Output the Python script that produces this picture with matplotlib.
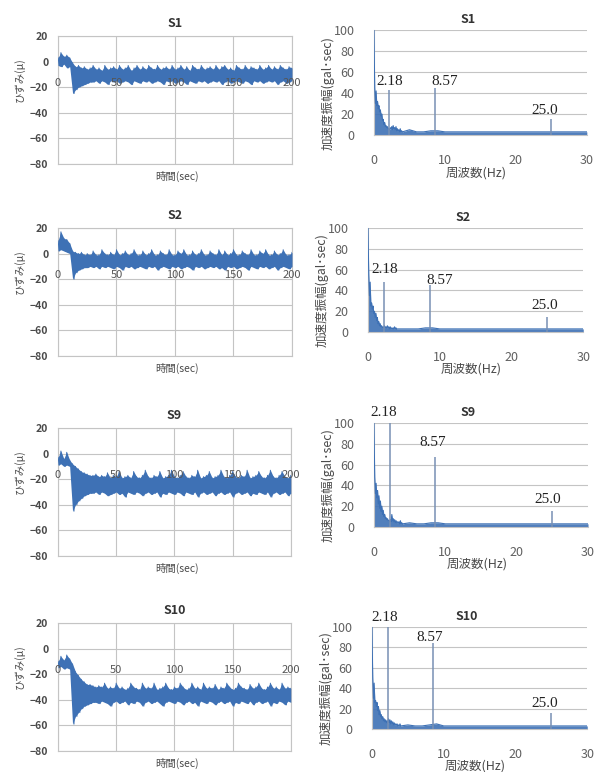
import numpy as np
import matplotlib
matplotlib.use("Agg")
import matplotlib.pyplot as plt

plt.rcParams['font.family'] = ['Noto Sans CJK JP', 'DejaVu Sans']

# ---------------- data ----------------
sensor_names = ["S1", "S2", "S9", "S10"]

# strain time histories: upper / lower envelope every 2.5 s from 0 to 200 s
S1_hi = [3, 7, 4, 5, 3, -1, -4, -3, -5, -4,
         -6, -5, -3, -6, -5, -7, -3, -6, -5, -4,
         -6, -3, -6, -5, -3, -7, -5, -3, -6, -4,
         -6, -3, -5, -6, -3, -6, -5, -4, -6, -3,
         -6, -5, -3, -6, -4, -7, -3, -5, -6, -3,
         -6, -5, -4, -6, -3, -6, -4, -3, -6, -5,
         -7, -3, -5, -6, -3, -6, -4, -5, -6, -3,
         -6, -5, -3, -6, -4, -6, -3, -5, -6, -4,
         -5]
S1_lo = [-3, -4, -2, -5, -4, -25, -22, -20, -19, -18,
         -17, -16, -16, -15, -17, -15, -16, -18, -15, -16,
         -15, -17, -16, -15, -16, -18, -15, -16, -17, -15,
         -16, -15, -17, -16, -15, -16, -18, -15, -16, -15,
         -17, -16, -15, -16, -18, -15, -16, -17, -15, -16,
         -15, -17, -16, -15, -16, -15, -18, -16, -15, -17,
         -16, -15, -16, -17, -15, -16, -18, -15, -16, -15,
         -17, -16, -15, -16, -15, -18, -16, -15, -17, -16,
         -15]

S2_hi = [10, 17, 12, 11, 8, 2, 1, 0, 1, -1,
         0, -1, 2, -1, -1, 3, 0, -1, 1, -1,
         3, -1, 0, 2, -1, 0, 3, -1, -1, 2,
         -1, 0, 3, -1, -1, 2, 0, -1, 3, -1,
         -1, 2, 0, 3, -1, -1, 2, -1, 0, 3,
         -1, -1, 2, 0, -1, 3, -1, 2, -1, 0,
         3, -1, -1, 2, 0, -1, 3, -1, -1, 2,
         0, 3, -1, -1, 2, -1, 0, 3, -1, -1,
         1]
S2_lo = [2, 3, 2, 1, 0, -20, -15, -13, -12, -11,
         -11, -10, -11, -10, -12, -10, -11, -10, -11, -12,
         -10, -11, -13, -10, -11, -10, -12, -11, -10, -11,
         -12, -10, -11, -10, -13, -11, -10, -11, -12, -10,
         -11, -10, -12, -11, -10, -11, -13, -10, -11, -10,
         -12, -11, -10, -11, -10, -12, -11, -13, -10, -11,
         -10, -12, -11, -10, -11, -13, -10, -11, -12, -10,
         -11, -10, -12, -11, -10, -13, -11, -10, -11, -12,
         -10]

S9_hi = [-3, 2, -4, 1, -5, -8, -10, -12, -14, -15,
         -16, -17, -17, -16, -18, -17, -18, -15, -19, -17,
         -18, -14, -19, -18, -17, -19, -14, -18, -19, -17,
         -13, -18, -19, -17, -18, -14, -19, -18, -17, -13,
         -18, -19, -17, -14, -18, -19, -17, -18, -13, -19,
         -18, -17, -14, -19, -18, -17, -13, -18, -19, -17,
         -14, -18, -19, -17, -18, -13, -19, -18, -17, -14,
         -18, -19, -17, -13, -18, -19, -17, -14, -18, -19,
         -17]
S9_lo = [-9, -8, -10, -9, -10, -45, -40, -37, -35, -33,
         -32, -31, -31, -30, -32, -30, -31, -33, -32, -31,
         -30, -32, -31, -34, -30, -31, -32, -30, -31, -33,
         -31, -30, -32, -31, -30, -34, -31, -32, -30, -31,
         -32, -30, -31, -33, -30, -31, -32, -30, -34, -31,
         -30, -32, -31, -30, -33, -31, -30, -32, -31, -30,
         -34, -31, -30, -32, -31, -30, -33, -31, -32, -30,
         -31, -32, -30, -34, -31, -30, -32, -31, -30, -33,
         -31]

S10_hi = [-10, -6, -9, -5, -8, -12, -18, -21, -24, -26,
          -28, -28, -29, -30, -29, -30, -27, -31, -30, -31,
          -27, -31, -30, -32, -31, -27, -30, -31, -32, -27,
          -31, -30, -31, -27, -32, -31, -30, -27, -31, -32,
          -30, -31, -27, -30, -32, -31, -27, -31, -30, -32,
          -27, -31, -30, -31, -28, -32, -30, -31, -27, -30,
          -32, -31, -27, -30, -31, -32, -28, -31, -30, -27,
          -31, -32, -30, -27, -31, -30, -32, -27, -31, -30,
          -31]
S10_lo = [-15, -14, -16, -15, -16, -59, -53, -50, -47, -45,
          -44, -43, -42, -42, -43, -41, -42, -43, -45, -42,
          -41, -43, -42, -41, -44, -42, -43, -41, -42, -45,
          -42, -41, -43, -42, -41, -43, -45, -42, -41, -42,
          -43, -41, -42, -44, -42, -41, -43, -42, -45, -41,
          -42, -43, -41, -42, -44, -42, -41, -43, -42, -41,
          -45, -42, -43, -41, -42, -43, -41, -44, -42, -41,
          -43, -42, -41, -45, -42, -43, -41, -42, -44, -41,
          -42]

strain_hi = [S1_hi, S2_hi, S9_hi, S10_hi]
strain_lo = [S1_lo, S2_lo, S9_lo, S10_lo]

# Fourier spectra: frequency grid (Hz) and amplitudes
freq_hz = [0.0, 0.1, 0.2, 0.3, 0.4, 0.5, 0.6, 0.7, 0.8, 0.9,
           1.0, 1.1, 1.2, 1.3, 1.4, 1.5, 1.6, 1.7, 1.8, 1.9,
           2.0, 2.1, 2.2, 2.3, 2.4, 2.5, 2.6, 2.7, 2.8, 2.9,
           3.0, 3.1, 3.2, 3.3, 3.4, 3.5, 3.6, 3.7, 3.8, 3.9,
           4.0, 5, 6, 7, 8, 9, 10, 11, 12, 13,
           14, 15, 16, 17, 18, 19, 20, 21, 22, 23,
           24, 25, 26, 27, 28, 29, 30]
S1_amp = [100, 45, 30, 42, 28, 32, 25, 28, 22, 24,
          18, 20, 14, 15, 10, 12, 8, 9, 7, 8,
          6, 6, 5, 7, 6, 8, 5, 9, 6, 7,
          5, 8, 4, 6, 4, 5, 3, 6, 3, 4,
          3, 5, 3, 3, 4, 4, 3, 3, 3, 3,
          3, 3, 3, 3, 3, 3, 3, 3, 3, 3,
          3, 3, 3, 3, 3, 3, 3]
S2_amp = [100, 55, 35, 48, 25, 28, 22, 25, 18, 20,
          14, 18, 11, 14, 8, 10, 6, 8, 5, 6,
          4, 5, 4, 6, 4, 5, 4, 6, 4, 5,
          3, 5, 3, 4, 3, 4, 3, 5, 3, 4,
          3, 3, 3, 3, 4, 4, 3, 3, 3, 3,
          3, 3, 3, 3, 3, 3, 3, 3, 3, 3,
          3, 3, 3, 3, 3, 3, 3]
S9_amp = [100, 48, 32, 42, 28, 35, 22, 30, 18, 25,
          15, 20, 12, 16, 10, 12, 8, 9, 7, 8,
          6, 6, 5, 7, 5, 12, 6, 8, 5, 7,
          4, 6, 4, 5, 4, 5, 3, 6, 3, 4,
          3, 4, 3, 3, 4, 4, 3, 3, 3, 3,
          3, 3, 3, 3, 3, 3, 3, 3, 3, 3,
          3, 3, 3, 3, 3, 3, 3]
S10_amp = [100, 50, 30, 45, 26, 28, 22, 26, 18, 22,
           14, 18, 12, 14, 10, 12, 8, 10, 7, 9,
           6, 8, 5, 10, 6, 9, 5, 8, 5, 7,
           4, 6, 4, 5, 4, 5, 3, 4, 3, 5,
           3, 4, 3, 3, 4, 5, 3, 3, 3, 3,
           3, 3, 3, 3, 3, 3, 3, 3, 3, 3,
           3, 3, 3, 3, 3, 3, 3]
spec_amp = [S1_amp, S2_amp, S9_amp, S10_amp]

peak_freq = [2.18, 8.57, 25.0]
peak_labels = ["2.18", "8.57", "25.0"]
peak_amp = [[43, 45, 15], [48, 45, 14], [100, 67, 15], [100, 84, 16]]

time_ticks = [0, 50, 100, 150, 200]
strain_ticks = [20, 0, -20, -40, -60, -80]
freq_ticks = [0, 10, 20, 30]
amp_ticks = [0, 20, 40, 60, 80, 100]

# ---------------- layout / style ----------------
BLUE = "#3e71b5"
PEAK = "#7890b4"
GRID = "#c4c4c4"
TXT = "#4a4a4a"

left_rects = [(0.0962, 0.7876, 0.388, 0.1658),
              (0.0962, 0.5389, 0.388, 0.1658),
              (0.0962, 0.2798, 0.386, 0.1658),
              (0.0962, 0.0272, 0.386, 0.1658)]
right_rects = [(0.6202, 0.8251, 0.353, 0.1360),
               (0.6103, 0.5699, 0.357, 0.1347),
               (0.6202, 0.3174, 0.355, 0.1347),
               (0.6169, 0.0557, 0.357, 0.1321)]
# annotation text centers (data coords) for each panel
anno_pos = [[(2.2, 51), (10.0, 51), (24.0, 23)],
            [(2.3, 60), (10.0, 50), (24.6, 26)],
            [(1.4, 110), (8.2, 81), (24.3, 26)],
            [(1.7, 109), (8.1, 90), (24.1, 25)]]

fig = plt.figure(figsize=(6.03, 7.72), dpi=100)

for i, name in enumerate(sensor_names):
    # ---- strain time history ----
    ax = fig.add_axes(left_rects[i])
    hi = np.array(strain_hi[i], float)
    lo = np.array(strain_lo[i], float)
    t = np.linspace(time_ticks[0], time_ticks[-1], len(hi))
    dt = t[1] - t[0]
    x = np.empty(2 * len(hi))
    y = np.empty(2 * len(hi))
    x[0::2] = t
    x[1::2] = t + dt / 2
    y[0::2] = hi
    y[1::2] = lo
    ax.fill_between(t, hi, lo, color=BLUE, lw=0, zorder=3)
    ax.plot(x, y, color=BLUE, lw=0.7, zorder=3)
    ax.set_xlim(time_ticks[0], time_ticks[-1])
    ax.set_ylim(strain_ticks[-1], strain_ticks[0])
    ax.set_xticks(time_ticks)
    ax.set_yticks(strain_ticks)
    ax.grid(True, color=GRID, lw=0.8, zorder=0)
    for s in ax.spines.values():
        s.set_color(GRID)
        s.set_linewidth(0.8)
    ax.tick_params(axis='x', length=0, labelbottom=False)
    ax.tick_params(axis='y', length=0, pad=7, labelsize=7.5, labelcolor=TXT)
    for lab in ax.get_yticklabels():
        lab.set_fontweight('bold')
    for tk in time_ticks:
        ax.text(tk, -16.5, str(tk), ha='center', va='center', fontsize=8,
                color='#555555', zorder=4)
    ax.text(0.5, 1.1, name, transform=ax.transAxes, ha='center', va='center',
            fontsize=9, fontweight='bold', color='#333333')
    ax.text(-0.165, 0.66, "ひずみ(μ)", transform=ax.transAxes, rotation=90,
            ha='center', va='center', fontsize=7.5, color=TXT)
    ax.text(0.51, -0.1, "時間(sec)", transform=ax.transAxes,
            ha='center', va='center', fontsize=7.5, color=TXT)

    # ---- Fourier spectrum ----
    bx = fig.add_axes(right_rects[i])
    amp = np.array(spec_amp[i], float)
    bx.fill_between(freq_hz, amp, 0, color=BLUE, alpha=0.9, lw=0, zorder=2)
    bx.plot(freq_hz, amp, color=BLUE, lw=0.8, zorder=3)
    bx.vlines(peak_freq, 0, peak_amp[i], color=PEAK, lw=1.1, zorder=3)
    bx.set_xlim(freq_ticks[0], freq_ticks[-1])
    bx.set_ylim(amp_ticks[0], amp_ticks[-1])
    bx.set_xticks(freq_ticks)
    bx.set_yticks(amp_ticks)
    bx.grid(True, axis='y', color=GRID, lw=0.8, zorder=0)
    bx.spines['top'].set_visible(False)
    bx.spines['right'].set_visible(False)
    bx.spines['left'].set_color(GRID)
    bx.spines['bottom'].set_color(GRID)
    bx.tick_params(axis='x', length=0, pad=14, labelsize=9, labelcolor='#606060')
    bx.tick_params(axis='y', length=0, pad=14, labelsize=9, labelcolor='#606060')
    for (ax_, ay_), lab in zip(anno_pos[i], peak_labels):
        bx.text(ax_, ay_, lab, ha='center', va='center', fontsize=11,
                family=['Liberation Serif', 'DejaVu Serif'], color='#222222',
                clip_on=False, zorder=5)
    bx.text(0.44, 1.1, name, transform=bx.transAxes, ha='center', va='center',
            fontsize=9, fontweight='bold', color='#333333')
    bx.text(-0.215, 0.4, "加速度振幅(gal･sec)", transform=bx.transAxes,
            rotation=90, ha='center', va='center', fontsize=9, color=TXT)
    bx.text(0.48, -0.36, "周波数(Hz)", transform=bx.transAxes,
            ha='center', va='center', fontsize=9, color=TXT)

fig.savefig("out.png", dpi=100)
